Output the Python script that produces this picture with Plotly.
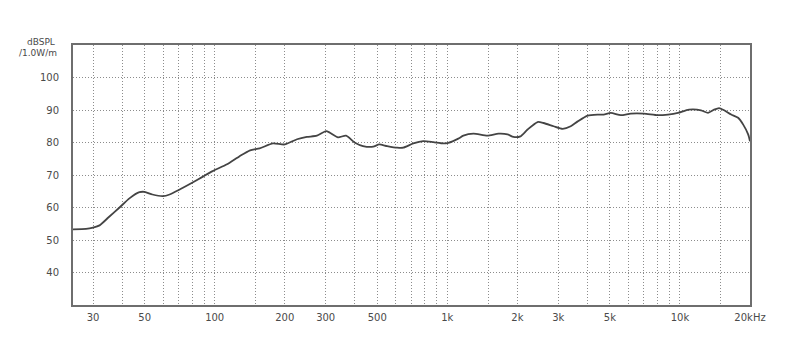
import plotly.graph_objects as go

# Frequency response (Hz, dBSPL)
freq = [24.6, 28, 30, 32, 35, 39, 43, 47.5, 50, 54, 60, 64, 71, 80, 89, 98, 113, 128, 142, 156,
        178, 200, 226, 249, 275, 301, 313, 339, 367, 401, 434, 480, 509, 551, 609, 646, 714,
        788, 871, 961, 1010, 1115, 1172, 1295, 1486, 1660, 1814, 1924, 2063, 2213, 2443, 2594,
        2864, 3133, 3392, 3633, 4011, 4432, 4700, 5045, 5570, 6150, 7000, 8040, 8880, 9800,
        10930, 12320, 13200, 14020, 14730, 15490, 16600, 17780, 18700, 19640, 20000]
spl = [53.3, 53.4, 53.8, 54.5, 57.0, 60.0, 62.8, 64.7, 64.8, 64.0, 63.5, 64.0, 65.6, 67.6, 69.5,
       71.2, 73.3, 75.8, 77.6, 78.2, 79.7, 79.4, 81.0, 81.7, 82.1, 83.5, 83.0, 81.6, 82.1, 79.9,
       78.9, 78.7, 79.4, 78.9, 78.4, 78.4, 79.7, 80.4, 80.1, 79.7, 79.9, 81.2, 82.1, 82.7, 82.1,
       82.7, 82.5, 81.7, 81.9, 84.0, 86.3, 86.0, 85.0, 84.2, 85.0, 86.5, 88.3, 88.6, 88.6, 89.1,
       88.4, 88.9, 88.9, 88.4, 88.6, 89.1, 90.1, 89.9, 89.1, 90.1, 90.6, 89.9, 88.6, 87.6, 85.5,
       82.5, 80.4]

x_grid = [30, 40, 50, 60, 70, 80, 90, 100, 150, 200, 300, 400, 500, 600, 700, 800, 900, 1000,
          1500, 2000, 3000, 4000, 5000, 6000, 7000, 8000, 9000, 10000, 15000, 20000]
x_labels = ["30", "", "50", "", "", "", "", "100", "", "200", "300", "", "500", "", "", "", "",
            "1k", "", "2k", "3k", "", "5k", "", "", "", "", "10k", "", "20kHz"]
y_ticks = [40, 50, 60, 70, 80, 90, 100]
y_labels = ["40", "50", "60", "70", "80", "90", "100"]

fig = go.Figure()
fig.add_trace(go.Scatter(x=freq, y=spl, mode="lines",
                         line=dict(color="#444444", width=1.8, shape="spline", smoothing=0.6),
                         hoverinfo="skip", showlegend=False))

fig.update_layout(
    width=800, height=359,
    margin=dict(l=73, r=50, t=45, b=54),
    paper_bgcolor="white", plot_bgcolor="white",
    font=dict(family="DejaVu Sans", size=10, color="#4a4a4a"),
    xaxis=dict(type="log", range=[1.391, 4.30103], tickvals=x_grid, ticktext=x_labels,
               showgrid=True, gridcolor="#8c8c8c", griddash="1px,2px", gridwidth=1,
               showline=True, linecolor="#6e6e6e", linewidth=2, mirror=True,
               ticks="", ticklabelstandoff=2, zeroline=False, tickangle=0),
    yaxis=dict(range=[30, 110], tickvals=y_ticks, ticktext=y_labels,
               showgrid=True, gridcolor="#8c8c8c", griddash="1px,2px", gridwidth=1,
               showline=True, linecolor="#6e6e6e", linewidth=2, mirror=True,
               ticks="", ticklabelstandoff=10, zeroline=False),
    annotations=[
        dict(text="dBSPL", xref="paper", yref="paper", x=-0.048, y=1.0, xanchor="center",
             yanchor="middle", yshift=3, showarrow=False, font=dict(size=9, color="#4a4a4a")),
        dict(text="/1.0W/m", xref="paper", yref="paper", x=-0.052, y=1.0, xanchor="center",
             yanchor="middle", yshift=-8, showarrow=False, font=dict(size=9, color="#4a4a4a")),
    ],
)

fig.write_html("out.html")
